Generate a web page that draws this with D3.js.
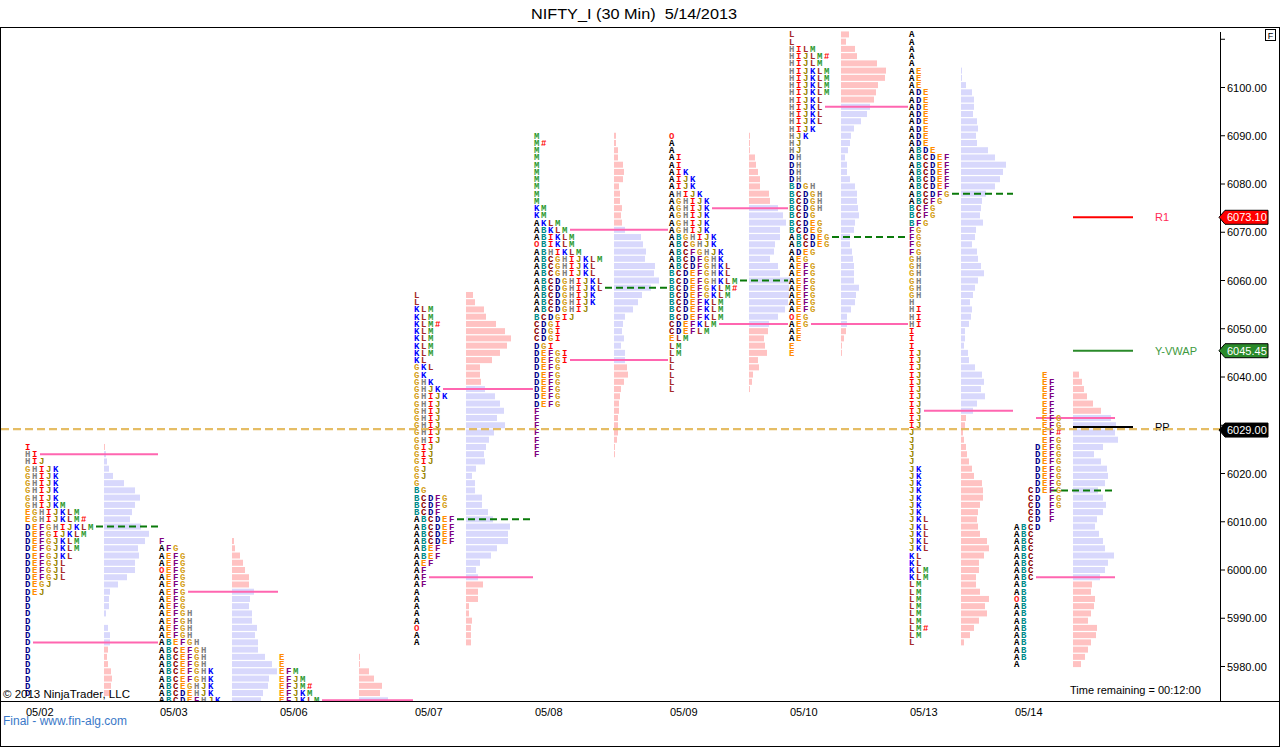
<!DOCTYPE html>
<html><head><meta charset="utf-8">
<script src="https://cdn.jsdelivr.net/npm/d3@7"></script>
<style>
html,body{margin:0;padding:0;background:#fff;}
svg{display:block;}
</style></head>
<body>
<svg id="chart" width="1280" height="747"></svg>
<script>
// ---------------- DATA ----------------
const dates = ['05/02','05/03','05/06','05/07','05/08','05/09','05/10','05/13','05/14'];
const profileTop = [6025.5, 6006, 5982, 6057, 6090, 6090, 6111, 6111, 6040.5];
const rowStep = 1.5;
const yTicks = [5980,5990,6000,6010,6020,6030,6040,6050,6060,6070,6080,6090,6100,6110];
const vahPrice = [6024, 5995.5, 5973, 6037.5, 6070.5, 6075, 6096, null, 6031.5];
const pocPrice = [6009, null, null, 6010.5, 6058.5, 6060, 6069, 6078, 6016.5];
const valPrice = [5985, null, null, 5998.5, 6043.5, 6051, 6051, 6033, 5998.5];
const lastPrice = 6029.00;
const r1Price = 6073.10;
const yvwapPrice = 6045.45;
const ppPrice = 6029.65;

const tpo0502 = ["I","HI","HIJ","GHIJK","GHIJK","GHIJK","GHIJK","GHIJK","GHIJKM","EGHIJKLM","EGHIJKLM#",
 "DEFGHIJKLM","DEFGIJKLM","DEFGJKLM","DEFGJKLM","DEFGJKL","DEFGJL","DEFGJL","DEFGJL","DEGJ","DEJ",
 "D","D","D","D","D","D","D","D","D","D","D","D","D","D"];
const vol0502 = [1,2,3,5,9,20,31,36,31,28,26,37,45,41,34,35,31,31,23,14,6,5,5,2,0,4,6,6,4,3,4,7,8,7,6];

const tpo0503 = ["F","AFG","AEFG","AEFG","OEFG","AEFG","AEFG","AEFG","AEFG","AEFG","AEFGH","AEFGH","AEFGH","AEFGH",
 "ABEFGH","ABCEFGH","ABCEFGH","ABCEFGH","ABCEFGHK","ABCEFGHK","ABCEGHJK","ABCDEHJK","ABCDEFHJK"];
const vol0503 = [2,3,8,11,13,17,17,22,18,17,20,20,25,23,26,26,33,40,45,37,36,31,29];

const tpo0506 = ["E","E","EFM","EFJM","EFJM#","EFJKM","EFJKLM"];
const vol0506 = [1,1,10,15,23,21,29];

const tpo0507 = ["L","L","KLM","KLM","KLM#","KLM","KLM","KLM","KLM","KL","GKL","GK","GHK","GHJK","GHIJK",
 "GHIJ","GHIJ","GHIJ","GHIJ","GHIJ","GHIJ","GIJ","GIJ","GIJ","GJ","GJ","G","BG","BCDFG","BCDFG","BCDF",
 "ABCDEF","ABCDEF","ABCDEF","ABCDEF","ABEF","ABEF","AEF","AF","AF","AF","A","A","A","A","A","O","A","A"];
const vol0507 = [7,9,18,20,30,39,45,41,34,26,14,14,15,19,29,34,38,31,39,28,23,20,18,19,10,6,
 9,9,16,16,22,27,44,42,42,31,25,14,10,12,17,12,12,3,3,6,5,5,5];

const tpo0508 = ["M","M#","M","M","M","M","M","M","M","M","KM","KM","AKLM","ABKLM","ABIKLM","OBIKLM","ABHIKLM",
 "ABCGHIJKLM","ABCGHIJKL","ABCGHIJKL","ABCDGHIJKL","ABCDGHIJKL","ABCDGHIJK","ABCDGHIJK","ABCDGHIJ","BCDGIJ",
 "CDGI","CDGI","CDGI","DGI","DEFGI","DEFGI","DEFG","DEFG","DEFG","DEFG","DEFG","DEFG",
 "F","F","F","F","F","F","F"];
const vol0508 = [2,2,4,4,9,10,9,5,6,6,8,7,8,11,27,29,32,31,41,40,45,37,28,24,19,11,9,8,10,7,11,11,13,14,10,7,6,5,5,4,4,4,3,1,1];

const tpo0509 = ["O","A","A","AI","AI","AIK","AIJK","AIJK","AHIJK","AGHIJK","AGHIJK","AGHIJK","AGHIJK","AGHIJK",
 "ABGHIJK","ABCGHJK","ABCFGHJK","ABCDFGHK","ABCDFGHKL","BCDEFGHKL","BCDEFGHKLM","BCDEFGKLM#","BCDEFGKLM",
 "BCDEFKLM","BCDEFKLM","BCDEFKLM","CDEFKLM","CDEFLM","ELM","LM","LM","L","L","L","L","L"];
const vol0509 = [1,1,1,6,7,9,11,11,20,21,29,34,37,31,31,26,25,21,29,31,41,40,40,39,36,29,20,19,15,16,18,9,10,4,3,1];

const tpo0510 = ["L","L","HILM","HIJLM#","HIJLM","HIJKLM","HIJKLM","HIJKLM","HIJKLM","HIJKL","HIJKL","HIJKL","HIJKL",
 "HIJK","HJK","HJ","HJ","DH","DH","DH","DH","BDGH","BCDGH","BCDGH","BCDGH","BCDG","BCDEG","BCDEG","ABCDEG","ABCDEG",
 "ADEG","AEG","AEFG","AEFG","AEFG","AEFG","AEFG","AEFG","AEFG","OEG","AEG","AE","AE","E","E"];
const vol0510 = [8,5,14,16,36,45,44,37,35,33,29,26,20,13,10,9,7,4,6,6,9,14,16,16,17,18,14,13,9,9,11,12,13,13,13,18,15,14,10,6,6,5,3,1,1];

const tpo0513 = ["A","A","A","A","A","AE","AE","AE","ADE","ADE","ADE","ADE","ADE","ADE","ADE","ADE","ABDE",
 "ABCDEF","ABCDEF","ABCDEF","ABCDEF","ABCDEF","ABCDFG","ABCFG","BCFG","BCFG","BFG","FG","FG","FG","FG",
 "GH","GH","GH","GH","GH","GH","H","HI","HI","HI","I","I","I",
 "IJ","IJ","IJ","IJ","IJ","IJ","IJ","IJ","IJ","IJ","IJ","J","J","J","J","J",
 "JK","JK","JK","JK","JK","JK","JK","JKL","JKL","JKL","JKL","JKL","KL","KL","KLM","KLM",
 "LM","LM","LM","LM","LM","LM","LM#","LM","L"];
const vol0513 = [0,0,0,0,0,1,1,5,11,13,13,12,16,17,15,16,27,34,45,42,39,34,25,21,20,19,22,15,14,11,16,17,20,23,17,14,12,9,11,10,8,4,4,
 3,7,8,14,21,23,20,24,16,12,5,4,2,3,5,6,8,11,13,21,22,22,19,17,16,17,19,26,28,23,18,18,15,15,19,28,24,26,18,13,9,3];

const tpo0514 = ["    E","    EF","    EF","    EF","    EF","    EF","    EFG","    EFG","    EF#","    EFG",
 "   DEFG","   DEFG","   DEFG","   DEFG","   DEFG","   DEFG","  CDEFG","  CD FG","  CD FG","  CD F","  CD F",
 "ABCD","ABC","ABC","ABC","ABC","ABC","ABC","ABC","AB","AB","OB","AB","AB","AB","AB","AB","AB","AB","AB","A"];
const vol0514 = [6,9,11,14,20,28,38,43,42,45,30,21,28,34,35,32,25,30,33,30,24,22,26,30,32,41,35,32,27,19,18,22,21,18,15,24,23,18,15,12,8];

const tpoRows = [tpo0502,tpo0503,tpo0506,tpo0507,tpo0508,tpo0509,tpo0510,tpo0513,tpo0514];
const volRows = [vol0502,vol0503,vol0506,vol0507,vol0508,vol0509,vol0510,vol0513,vol0514];

// ---------------- STYLE / LAYOUT ----------------
const letterColor = {A:'#000000',B:'#008b8b',C:'#8b0000',D:'#00008b',E:'#ff8c00',F:'#800080',G:'#d4a017',
  H:'#808080',I:'#ff0000',J:'#9a8700',K:'#0000ff',L:'#a52a2a',M:'#2e9a2e',O:'#ff2020','#':'#ff0000'};
const pinkBar = '#ffc2c2', lavBar = '#d8d8fc', vaLine = '#ff66b0', pocLine = '#0a7a0a';
const colW = 7;

const svg = d3.select('#chart');
const W = 1280, H = 747;
const plot = {left:0, right:1220, top:27, bottom:701};

const y = d3.scaleLinear().domain([5980, 6100]).range([666.5, 87.5]);
const xDay = d3.scaleOrdinal().domain(dates).range([25,159,279,414,534,669,789,909,1014]);
const xHist = d3.scaleOrdinal().domain(dates).range([104,232,359,466,614,749,841,961,1073]);
const wVol = d3.scaleLinear().domain([0,45]).range([0,45]);

// frame
svg.append('rect').attr('x',0.5).attr('y',27.5).attr('width',W-1).attr('height',H-28)
  .attr('fill','none').attr('stroke','#000').attr('stroke-width',1);
svg.append('line').attr('x1',0).attr('x2',W).attr('y1',plot.bottom+0.5).attr('y2',plot.bottom+0.5)
  .attr('stroke','#000').attr('stroke-width',1.2);

// title
svg.append('text').attr('x',634).attr('y',19).attr('text-anchor','middle')
  .attr('font-family','Liberation Sans, Arial, sans-serif').attr('font-size',15.5)
  .attr('textLength',206).attr('lengthAdjust','spacingAndGlyphs')
  .style('white-space','pre').text('NIFTY_I (30 Min)  5/14/2013');

svg.append('defs').append('clipPath').attr('id','plotclip').append('rect')
  .attr('x',1).attr('y',plot.top+1).attr('width',plot.right-1).attr('height',plot.bottom-plot.top-1);
const g = svg.append('g').attr('clip-path','url(#plotclip)');

const gBars = g.append('g'), gLines = g.append('g'), gText = g.append('g');

dates.forEach((d,i) => {
  const rows = tpoRows[i], vols = volRows[i], top = profileTop[i];
  const vah = vahPrice[i] == null ? Infinity : vahPrice[i];
  const val = valPrice[i] == null ? -Infinity : valPrice[i];
  // one text block per session profile, one tspan per TPO letter
  const t = gText.append('text')
    .attr('font-family','Liberation Mono, DejaVu Sans Mono, monospace').attr('font-weight','bold').attr('font-size',9);
  rows.forEach((r,j) => {
    const p = top - j*rowStep, yy = y(p);
    const v = vols[j];
    if (v > 0) {
      const inVA = p <= vah + 0.01 && p >= val - 0.01;
      gBars.append('rect').attr('x', xHist(d)).attr('y', yy-3).attr('width', wVol(v)).attr('height', 6)
        .attr('fill', inVA ? lavBar : pinkBar);
    }
    r.split('').forEach((c,k) => {
      if (c === ' ') return;
      t.append('tspan').attr('x', xDay(d) + k*colW).attr('y', yy+3).attr('fill', letterColor[c] || '#000').text(c);
    });
  });
  const endX = i < dates.length-1 ? xDay(dates[i+1]) - 1 : xHist(d) + 42;
  const startFor = (price) => {
    const idx = Math.round((top - price)/rowStep);
    const n = (rows[idx] || '').replace(/ /g,'').length;
    return xDay(d) + n*colW + 1;
  };
  [vahPrice[i], valPrice[i]].forEach(pr => {
    if (pr == null) return;
    gLines.append('line').attr('x1', startFor(pr)).attr('x2', endX).attr('y1', y(pr)).attr('y2', y(pr))
      .attr('stroke', vaLine).attr('stroke-width', 2);
  });
  if (pocPrice[i] != null) {
    gLines.append('line').attr('x1', startFor(pocPrice[i])).attr('x2', endX)
      .attr('y1', y(pocPrice[i])).attr('y2', y(pocPrice[i]))
      .attr('stroke', pocLine).attr('stroke-width', 2).attr('stroke-dasharray','7,4');
  }
});

// indicator lines (R1, Y-VWAP, PP)
const indX0 = xHist('05/14'), indX1 = xHist('05/14') + 60;
const indicators = [
  {p:r1Price, c:'#ff0000', label:'R1', lc:'#ff2a55'},
  {p:yvwapPrice, c:'#2a8a2a', label:'Y-VWAP', lc:'#3e9a3e'},
  {p:ppPrice, c:'#000000', label:'PP', lc:'#000000'}
];
indicators.forEach(o => {
  g.append('line').attr('x1',indX0).attr('x2',indX1).attr('y1',y(o.p)).attr('y2',y(o.p))
    .attr('stroke',o.c).attr('stroke-width',2);
  svg.append('text').attr('x',1155).attr('y',y(o.p)+4).attr('fill',o.lc)
    .attr('font-family','Liberation Sans, Arial, sans-serif').attr('font-size',11).text(o.label);
});

// last price dashed line
svg.append('line').attr('x1',1).attr('x2',plot.right).attr('y1',y(lastPrice)-1).attr('y2',y(lastPrice)-1)
  .attr('stroke','#e0b24a').attr('stroke-opacity',0.85).attr('stroke-width',2.4).attr('stroke-dasharray','8,4');

// right axis
svg.append('line').attr('x1',plot.right+0.5).attr('x2',plot.right+0.5).attr('y1',32).attr('y2',plot.bottom)
  .attr('stroke','#000');
const ax = svg.append('g');
yTicks.forEach(t => {
  ax.append('line').attr('x1',plot.right).attr('x2',plot.right+5).attr('y1',y(t)).attr('y2',y(t)).attr('stroke','#000');
  if (t <= 6100 && t !== 6030) ax.append('text').attr('x',1227).attr('y',y(t)+4)
    .attr('font-family','Liberation Sans, Arial, sans-serif').attr('font-size',11).text(d3.format('.2f')(t));
});

// price markers
const markers = [{p:r1Price, c:'#ff0000'}, {p:yvwapPrice, c:'#2a8a2a'}, {p:lastPrice, c:'#000000'}];
markers.forEach(m => {
  const cy = y(m.p);
  svg.append('path').attr('d', `M1219,${cy} L1225,${cy-7} L1268,${cy-7} L1268,${cy+7} L1225,${cy+7} Z`)
    .attr('fill', m.c).attr('stroke','#000').attr('stroke-width',1);
  svg.append('text').attr('x',1227).attr('y',cy+4).attr('fill','#fff')
    .attr('font-family','Liberation Sans, Arial, sans-serif').attr('font-size',11).text(d3.format('.2f')(m.p));
});

// F box
svg.append('rect').attr('x',1265.5).attr('y',29.5).attr('width',10).attr('height',11).attr('fill','#fff').attr('stroke','#000');
svg.append('text').attr('x',1270.5).attr('y',38.5).attr('text-anchor','middle')
  .attr('font-family','Liberation Sans, Arial, sans-serif').attr('font-size',9).text('F');

// x labels
dates.forEach(d => {
  svg.append('text').attr('x', xDay(d)+1).attr('y', 716)
    .attr('font-family','Liberation Sans, Arial, sans-serif').attr('font-size',11).text(d);
});

// footer texts
svg.append('text').attr('x',3).attr('y',698).attr('font-family','Liberation Sans, Arial, sans-serif')
  .attr('font-size',11.5).text('© 2013 NinjaTrader, LLC');
svg.append('text').attr('x',1070).attr('y',694).attr('font-family','Liberation Sans, Arial, sans-serif')
  .attr('font-size',11).text('Time remaining = 00:12:00');
svg.append('text').attr('x',3).attr('y',725).attr('fill','#3a78c8').attr('font-family','Liberation Sans, Arial, sans-serif')
  .attr('font-size',12).text('Final - www.fin-alg.com');
</script>
</body></html>
